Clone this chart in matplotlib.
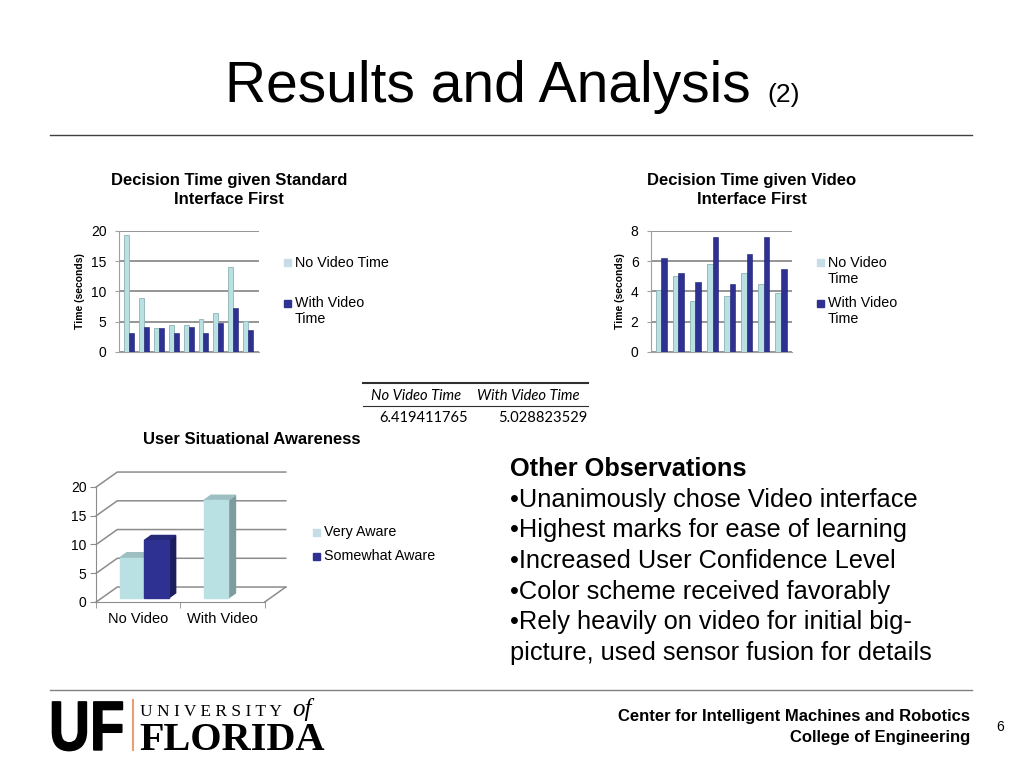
import matplotlib.pyplot as plt
import numpy as np
from matplotlib.patches import Polygon, PathPatch
from matplotlib.textpath import TextPath
from matplotlib.font_manager import FontProperties
from matplotlib import transforms

plt.rcParams['font.family'] = ['Liberation Sans', 'DejaVu Sans']

# chart 1: decision time, standard interface first
std_no_video = [19.3, 9.0, 4.0, 4.5, 4.4, 5.4, 6.5, 14.0, 5.1]
std_with_video = [3.2, 4.1, 3.9, 3.2, 4.1, 3.2, 4.8, 7.3, 3.6]
# chart 2: decision time, video interface first
vid_no_video = [4.1, 5.0, 3.4, 5.8, 3.7, 5.2, 4.5, 3.9]
vid_with_video = [6.2, 5.2, 4.6, 7.6, 4.5, 6.5, 7.6, 5.5]
# chart 3: situational awareness
aware_cats = ['No Video', 'With Video']
very_aware = [7, 17]
somewhat_aware = [10, 0]
# table of means
table_headers = ['No Video Time', 'With Video Time']
table_values = ['6.419411765', '5.028823529']

observations = ['Other Observations',
                '\u2022Unanimously chose Video interface',
                '\u2022Highest marks for ease of learning',
                '\u2022Increased User Confidence Level',
                '\u2022Color scheme received favorably',
                '\u2022Rely heavily on video for initial big-',
                'picture, used sensor fusion for details']

LIGHT = '#B9E0E3'
DARK = '#2E3192'
GRID = '#8C8C8C'

W, H = 1024, 768
fig = plt.figure(figsize=(W / 100, H / 100), dpi=100)


def ax_px(l, t, r, b):
    return fig.add_axes([l / W, 1 - b / H, (r - l) / W, (b - t) / H])


def txt(x, y, s, **kw):
    return fig.text(x / W, 1 - y / H, s, **kw)


def hline(x0, x1, y, **kw):
    fig.add_artist(plt.Line2D([x0 / W, x1 / W], [1 - y / H, 1 - y / H], **kw))


# title and rules
txt(225, 102, 'Results and Analysis', fontsize=41, va='baseline')
txt(767, 102, '(2)', fontsize=19, va='baseline')
hline(50, 972, 135, color='#404040', lw=1)
hline(50, 972, 690, color='#808080', lw=1)


def bar_chart(ax, a, b, ymax, step, xlim):
    x = np.arange(len(a))
    w = 0.33
    ax.bar(x - w / 2, a, w, color=LIGHT, edgecolor='#8FB3B6', lw=0.6, zorder=3)
    ax.bar(x + w / 2, b, w, color=DARK, edgecolor='#1E2070', lw=0.4, zorder=3)
    ax.set_xlim(*xlim)
    ax.set_ylim(0, ymax)
    ax.set_yticks(np.arange(0, ymax + 0.01, step))
    ax.yaxis.grid(True, color=GRID, lw=1.3, zorder=0)
    ax.set_xticks([])
    for s in ['top', 'right']:
        ax.spines[s].set_visible(False)
    for s in ['left', 'bottom']:
        ax.spines[s].set_color('#A0A0A0')
    ax.tick_params(axis='y', length=3, color='#A0A0A0', labelsize=10, pad=6)
    ax.set_ylabel('Time (seconds)', fontsize=7.5, fontweight='bold', labelpad=4)


ax1 = ax_px(119, 231, 259, 352)
bar_chart(ax1, std_no_video, std_with_video, 20, 5, (-0.7, 8.75))
ax2 = ax_px(651, 231, 792, 352)
bar_chart(ax2, vid_no_video, vid_with_video, 8, 2, (-0.6, 7.65))

tkw = dict(fontsize=12, fontweight='bold', ha='center', va='center')
txt(229, 181, 'Decision Time given Standard', **tkw)
txt(229, 200, 'Interface First', **tkw)
txt(752, 180, 'Decision Time given Video', **tkw)
txt(752, 199, 'Interface First', **tkw)


def legend_item(x, y, color, lines):
    fig.add_artist(plt.Rectangle(((x - 3.5) / W, 1 - (y + 3.5) / H), 7 / W, 7 / H,
                                 color=color, transform=fig.transFigure))
    for i, s in enumerate(lines):
        txt(x + 8, y + i * 16, s, fontsize=10.3, va='center')


legend_item(287, 263, '#C6DCE6', ['No Video Time'])
legend_item(287, 303, DARK, ['With Video', 'Time'])
legend_item(820, 263, '#C6DCE6', ['No Video', 'Time'])
legend_item(820, 303, DARK, ['With Video', 'Time'])

# table of means
hline(363, 588, 383, color='#303030', lw=1.5)
hline(363, 588, 406, color='#303030', lw=0.8)
txt(371, 396, table_headers[0], fontsize=10.6, style='italic', family='Lato', va='center')
txt(477, 396, table_headers[1], fontsize=10.6, style='italic', family='Lato', va='center')
txt(468, 418, table_values[0], fontsize=10.6, family='Lato', va='center', ha='right')
txt(587, 418, table_values[1], fontsize=10.6, family='Lato', va='center', ha='right')

# chart 3: pseudo-3D bars
txt(252, 440, 'User Situational Awareness', **tkw)
ax3 = ax_px(92, 469.75, 290, 606)
ax3.set_xlim(-0.55, 1.8)
ax3.set_ylim(-0.7, 23)
DX, DY = 0.25, 2.6
for v in range(0, 21, 5):
    ax3.plot([-0.5, -0.5 + DX, 1.5 + DX], [v, v + DY, v + DY], color=GRID, lw=1.1, zorder=1)
ax3.plot([1.5, 1.5 + DX], [0, DY], color=GRID, lw=1.1, zorder=1)
for s in ['top', 'right']:
    ax3.spines[s].set_visible(False)
ax3.spines['left'].set_position(('data', -0.5))
ax3.spines['bottom'].set_position(('data', 0))
ax3.spines['left'].set_bounds(0, 20)
ax3.spines['bottom'].set_bounds(-0.5, 1.5)
for s in ['left', 'bottom']:
    ax3.spines[s].set_color(GRID)
ax3.set_yticks(range(0, 21, 5))
ax3.set_xticks(range(len(aware_cats)))
ax3.set_xticklabels(aware_cats)
ax3.set_xticks([-0.5, 0.5, 1.5], minor=True)
ax3.tick_params(axis='x', which='major', length=0, labelsize=10.5, pad=7)
ax3.tick_params(axis='x', which='minor', length=4, color=GRID)
ax3.tick_params(axis='y', length=4, color=GRID, labelsize=10, pad=3)

bw, sx, sy, tdx, tdy = 0.29, 0.07, 0.7, 0.083, 0.87
series = [(very_aware, LIGHT, '#7E9C9E', '#9DBFC1'), (somewhat_aware, DARK, '#1C1D5C', '#26287A')]
for k, (vals, front, side, top) in enumerate(series):
    for c, v in enumerate(vals):
        if v <= 0:
            continue
        x0 = c - 0.22 + k * bw
        x1 = x0 + bw
        y0, y1 = sy, sy + v
        ax3.add_patch(Polygon([(x1, y0), (x1 + tdx, y0 + tdy), (x1 + tdx, y1 + tdy), (x1, y1)],
                              color=side, zorder=3))
        ax3.add_patch(Polygon([(x0, y1), (x0 + tdx, y1 + tdy), (x1 + tdx, y1 + tdy), (x1, y1)],
                              color=top, zorder=3))
        ax3.add_patch(plt.Rectangle((x0, y0), bw, v, color=front, zorder=4))

legend_item(316, 532, '#C6DCE6', ['Very Aware'])
legend_item(316, 556, DARK, ['Somewhat Aware'])

# observations
for i, s in enumerate(observations):
    txt(510, 476 + i * 30.7, s, fontsize=18.3, va='baseline',
        fontweight='bold' if i == 0 else 'normal')

# footer
txt(970, 721, 'Center for Intelligent Machines and Robotics', fontsize=12, fontweight='bold',
    ha='right', va='baseline')
txt(970, 742, 'College of Engineering', fontsize=12, fontweight='bold', ha='right', va='baseline')
txt(1000, 727, '6', fontsize=10, ha='center', va='center')

# UF logo
fp = FontProperties(family='Liberation Sans', weight='bold')
tp = TextPath((0, 0), 'UF', prop=fp, size=70)
tr = transforms.Affine2D().scale(0.81, 1.0).translate(49, H - 750)
fig.add_artist(PathPatch(tr.transform_path(tp), color='black', transform=transforms.IdentityTransform()))
fig.add_artist(plt.Line2D([133 / W, 133 / W], [1 - 700 / H, 1 - 750 / H], color='#E8A070', lw=1.5))
txt(140, 716, 'U N I V E R S I T Y', fontsize=12.5, family='Liberation Serif', va='baseline')
txt(292, 716, 'of', fontsize=18, family='Liberation Serif', style='italic', va='baseline')
txt(139, 750, 'FLORIDA', fontsize=29, family='Liberation Serif', fontweight='bold', va='baseline')

fig.savefig('out.png', dpi=100)
